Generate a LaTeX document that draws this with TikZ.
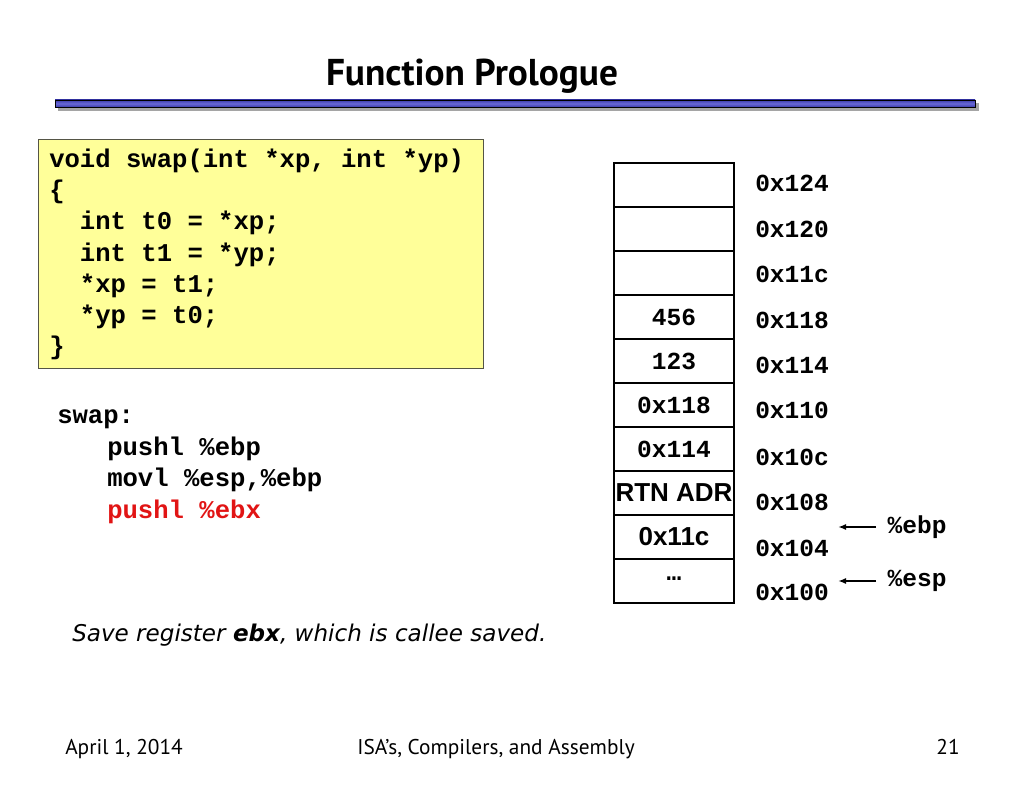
\documentclass[tikz,border=0pt]{standalone}
\usepackage{fontspec}
\setmainfont{PT Sans}
\newfontfamily\codefont{Liberation Mono}
\newfontfamily\cellfont{Liberation Sans}
\newfontfamily\notefont{DejaVu Sans}
\usetikzlibrary{arrows.meta, positioning}
\definecolor{barblue}{RGB}{60,60,170}
\definecolor{barlight}{RGB}{105,105,215}
\definecolor{barshadow}{RGB}{165,165,165}
\definecolor{codeyellow}{RGB}{255,255,153}
\definecolor{codeedge}{RGB}{85,85,70}
\definecolor{pushred}{RGB}{225,20,20}

\begin{document}
\begin{tikzpicture}[
        x=0.75pt, y=-0.75pt,
        code/.style={inner sep=0pt, align=left,
                     font=\codefont\bfseries\fontsize{19.2}{23.25}\selectfont},
        codebox/.style={rectangle, draw=codeedge, fill=codeyellow, line width=0.9pt,
                        minimum width=333.75pt, minimum height=171.75pt, inner sep=0pt},
        cell/.style={rectangle, draw=black, line width=1.4pt, outer sep=0pt,
                     minimum width=90pt, minimum height=33pt, inner sep=0pt,
                     font=\codefont\bfseries\fontsize{18.4}{20}\selectfont},
        cellsans/.style={cell, font=\cellfont\bfseries\fontsize{19.5}{21}\selectfont},
        addr/.style={anchor=west, inner sep=0pt,
                     font=\codefont\bfseries\fontsize{18.4}{20}\selectfont},
        reg/.style={anchor=west, inner xsep=8.5pt, inner ysep=1pt,
                    font=\codefont\bfseries\fontsize{18.4}{20}\selectfont},
        ptr/.style={-{Latex[length=6pt, width=4.5pt]}, line width=1.3pt},
        foot/.style={anchor=base, inner sep=0pt, font=\fontsize{16}{18}\selectfont},
    ]
        \useasboundingbox (0,0) rectangle (1024,791);

        % Titre
        \node[anchor=base, inner sep=0pt, font=\bfseries\fontsize{28}{32}\selectfont]
            (title) at (472,86) {Function Prologue};
        \fill[barshadow] (58,103) rectangle (979,111);
        \shade[top color=barblue, bottom color=barblue, middle color=barlight]
            (55,100) rectangle (975,107);
        \draw[black, line width=0.7pt] (55,100) rectangle (975,107);

        % Code C
        \node[codebox, anchor=north west] (cbox) at (38,139) {};
        \node[code, anchor=base west] (csrc) at (49,354)
            {void swap(int *xp, int *yp)\\
             \{\\
             \ \ int t0 = *xp;\\
             \ \ int t1 = *yp;\\
             \ \ *xp = t1;\\
             \ \ *yp = t0;\\
             \}};

        % Code assembleur
        \node[code, anchor=base west, font=\codefont\bfseries\fontsize{19.2}{23.6}\selectfont]
            (asm) at (57,518)
            {swap:\\
             \hspace*{37.5pt}pushl \%ebp\\
             \hspace*{37.5pt}movl \%esp,\%ebp\\
             \hspace*{37.5pt}\textcolor{pushred}{pushl \%ebx}};

        % Legende
        \node[anchor=base west, inner sep=0pt, font=\notefont\itshape\fontsize{17.3}{20}\selectfont]
            (note) at (72,641) {Save register \textbf{ebx}, which is callee saved.};

        % Pile
        \node[cell, anchor=north west] (m124) at (614,163) {};
        \node[cell, below=0pt of m124] (m120) {};
        \node[cell, below=0pt of m120] (m11c) {};
        \node[cell, below=0pt of m11c] (m118) {456};
        \node[cell, below=0pt of m118] (m114) {123};
        \node[cell, below=0pt of m114] (m110) {0x118};
        \node[cell, below=0pt of m110] (m10c) {0x114};
        \node[cellsans, below=0pt of m10c] (m108) {RTN ADR};
        \node[cellsans, below=0pt of m108] (m104) {0x11c};
        \node[cell, below=0pt of m104] (m100) {\raisebox{4pt}{\ldots}};

        % Adresses
        \node[addr] (a124) at (755,183) {0x124};
        \node[addr] (a120) at (755,229) {0x120};
        \node[addr] (a11c) at (755,274) {0x11c};
        \node[addr] (a118) at (755,320) {0x118};
        \node[addr] (a114) at (755,365) {0x114};
        \node[addr] (a110) at (755,410) {0x110};
        \node[addr] (a10c) at (755,457) {0x10c};
        \node[addr] (a108) at (755,502) {0x108};
        \node[addr] (a104) at (755,548) {0x104};
        \node[addr] (a100) at (755,592) {0x100};

        % Registres
        \node[reg] (ebp) at (876,527) {\%ebp};
        \node[reg] (esp) at (876,581) {\%esp};
        \coordinate (tebp) at (838,527);
        \coordinate (tesp) at (838,581);
        \draw[ptr] (ebp) -- (tebp);
        \draw[ptr] (esp) -- (tesp);

        % Pied de page
        \node[foot, anchor=base west] (date) at (65,754) {April 1, 2014};
        \node[foot] (course) at (496,754) {ISA\symbol{39}s, Compilers, and Assembly};
        \node[foot, anchor=base east] (page) at (960,754) {21};
    \end{tikzpicture}
\end{document}
